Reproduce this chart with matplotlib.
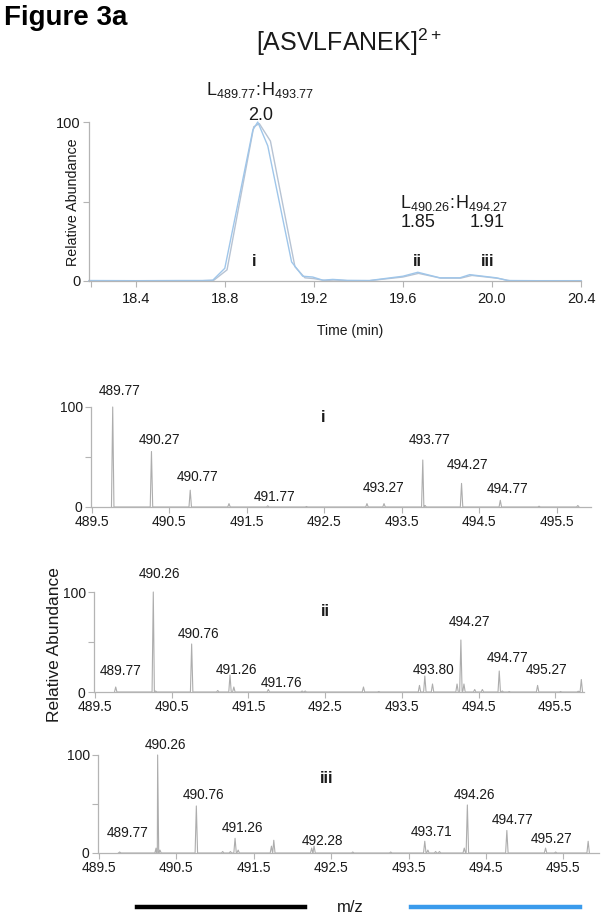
import numpy as np
import matplotlib
matplotlib.use("Agg")
import matplotlib.pyplot as plt

plt.rcParams['font.family'] = ['Liberation Sans', 'DejaVu Sans']
plt.rcParams['mathtext.fontset'] = 'custom'
plt.rcParams['mathtext.rm'] = 'Liberation Sans'
plt.rcParams['mathtext.it'] = 'Liberation Sans'
plt.rcParams['mathtext.bf'] = 'Liberation Sans:bold'

# ---------------- data ----------------
# chromatogram (time in min, relative abundance)
time_L = [18.19, 18.40, 18.60, 18.70, 18.746, 18.80, 18.926, 18.948, 18.993, 19.10, 19.15, 19.195,
          19.24, 19.285, 19.35, 19.45, 19.60, 19.667, 19.766, 19.856, 19.90, 19.96, 20.02, 20.07, 20.20, 20.40]
abund_L = [0.3, 0.2, 0.3, 0.3, 0.5, 8, 95, 100, 85, 12, 3, 2.5,
           0.5, 1.0, 0.4, 0.3, 3, 5.5, 2, 2, 4, 3, 2, 0.3, 0.2, 0.2]
time_H = [18.19, 18.40, 18.60, 18.70, 18.75, 18.81, 18.93, 18.955, 19.005, 19.115, 19.16, 19.20,
          19.25, 19.29, 19.35, 19.45, 19.60, 19.67, 19.77, 19.86, 19.91, 19.97, 20.03, 20.08, 20.20, 20.40]
abund_H = [0.1, 0.1, 0.1, 0.2, 0.4, 7, 97, 99, 88, 9, 2, 1.5,
           0.3, 0.6, 0.2, 0.2, 2.5, 4.8, 1.8, 1.8, 3.5, 2.6, 1.6, 0.2, 0.1, 0.1]

time_ticks = [18.2, 18.4, 18.8, 19.2, 19.6, 20.0, 20.4]
time_ticklabels = ['', '18.4', '18.8', '19.2', '19.6', '20.0', '20.4']

# spectra: peak m/z and relative intensity
mz_i = [489.77, 490.27, 490.77, 491.27, 491.77, 492.27, 493.05, 493.27, 493.77, 493.80,
        494.27, 494.77, 495.27, 495.77]
int_i = [100, 55.5, 16.8, 3.4, 1.2, 0.5, 3.4, 3.4, 47, 1.5, 23.6, 6.7, 0.8, 1.5]
lab_i = ['489.77', '490.27', '490.77', '491.77', '493.27', '493.77', '494.27', '494.77']

mz_ii = [489.77, 490.26, 490.29, 490.76, 491.10, 491.26, 491.31, 491.76, 492.20, 492.24,
         493.00, 493.20, 493.73, 493.80, 493.90, 494.22, 494.27, 494.31, 494.45, 494.55,
         494.77, 494.81, 494.90, 495.27, 495.57, 495.80, 495.84]
int_ii = [5, 100, 1, 48, 1.5, 17, 5, 2.5, 1, 1,
          5, 0.5, 6.6, 16, 8, 8, 52, 8, 2.5, 2.5,
          21, 1, 0.5, 6.6, 0.5, 0.8, 12.5]
lab_ii = ['489.77', '490.26', '490.76', '491.26', '491.76', '493.80', '494.27', '494.77', '495.27']

mz_iii = [489.77, 490.24, 490.26, 490.29, 490.76, 491.10, 491.20, 491.26, 491.30, 491.73,
          491.76, 492.25, 492.28, 492.78, 493.27, 493.71, 493.75, 493.85, 493.90, 494.22,
          494.26, 494.77, 495.27, 495.40, 495.82]
int_iii = [1, 5, 100, 3, 48, 1.5, 1.5, 15, 3, 7,
           13, 5, 7, 1, 1, 12, 3, 1.5, 1.5, 5,
           49, 23, 5, 1, 12]
lab_iii = ['489.77', '490.26', '490.76', '491.26', '492.28', '493.71', '494.26', '494.77', '495.27']

mz_ticks = [489.5, 490.5, 491.5, 492.5, 493.5, 494.5, 495.5]

# ---------------- layout (placement of annotations) ----------------
labpos_i = [(489.86, 116), (490.37, 67), (490.86, 30), (491.86, 10), (493.27, 18.5),
            (493.86, 67), (494.35, 42), (494.86, 18)]
labpos_ii = [(489.83, 21), (490.34, 118), (490.85, 58), (491.35, 21.5), (491.93, 9),
             (493.92, 21.5), (494.38, 70), (494.88, 34), (495.39, 21.5)]
labpos_iii = [(489.87, 20), (490.36, 110), (490.85, 59), (491.36, 26), (492.39, 12),
              (493.80, 21), (494.35, 59), (494.85, 34), (495.35, 14)]

W, H = 605, 924
fig = plt.figure(figsize=(W / 100, H / 100), dpi=100)

def rect(l, r, t, b):
    return [l / W, 1 - b / H, (r - l) / W, (b - t) / H]

spine_c = '#b4b4b4'
txt_c = '#1a1a1a'

def style(ax, fs):
    for s in ['top', 'right']:
        ax.spines[s].set_visible(False)
    for s in ['left', 'bottom']:
        ax.spines[s].set_color(spine_c)
        ax.spines[s].set_linewidth(0.9)
    ax.tick_params(axis='both', colors=spine_c, labelcolor=txt_c, labelsize=fs,
                   length=4, width=0.8, pad=2)
    ax.set_yticks([0, 50, 100])
    ax.set_yticklabels(['0', '', '100'])

# ---- top chromatogram ----
ax0 = fig.add_axes(rect(89, 581, 122, 281))
ax0.plot(time_H, abund_H, color='#b7c3d3', lw=1.0, clip_on=False)
ax0.plot(time_L, abund_L, color='#9fc6ea', lw=1.0, clip_on=False)
ax0.set_xlim(18.19, 20.4)
ax0.set_ylim(0, 100)
style(ax0, 10.5)
ax0.set_xticks(time_ticks)
ax0.set_xticklabels(time_ticklabels)
ax0.tick_params(axis='x', pad=4)
ax0.text(18.96, 120, r'$\mathrm{L_{489.77}\!:\!H_{493.77}}$', fontsize=13, ha='center', va='center', color=txt_c)
ax0.text(18.96, 104, '2.0', fontsize=13, ha='center', va='center', color=txt_c)
ax0.text(19.83, 49, r'$\mathrm{L_{490.26}\!:\!H_{494.27}}$', fontsize=13, ha='center', va='center', color=txt_c)
ax0.text(19.67, 36.5, '1.85', fontsize=13, ha='center', va='center', color=txt_c)
ax0.text(19.98, 36.5, '1.91', fontsize=13, ha='center', va='center', color=txt_c)
for x, s in [(18.93, 'i'), (19.667, 'ii'), (19.98, 'iii')]:
    ax0.text(x, 12, s, fontsize=11.5, fontweight='bold', ha='center', va='center', color=txt_c)
fig.text(73 / W, 1 - 202 / H, 'Relative Abundance', fontsize=10.3, rotation=90,
         ha='center', va='center', color=txt_c)
fig.text(350 / W, 1 - 331 / H, 'Time (min)', fontsize=10, ha='center', va='center', color=txt_c)

# ---- spectra ----
def profile(mz, inten, hw=0.016):
    xs, ys = [], []
    for m, h in zip(mz, inten):
        xs += [m - hw, m, m + hw]
        ys += [0, h, 0]
    return np.array(xs), np.array(ys)

panels = [
    (mz_i, int_i, lab_i, labpos_i, 'i', (492.49, 89), rect(91, 591, 407, 507), (489.49, 495.94)),
    (mz_ii, int_ii, lab_ii, labpos_ii, 'ii', (492.50, 80), rect(94, 584, 592, 692), (489.487, 495.875)),
    (mz_iii, int_iii, lab_iii, labpos_iii, 'iii', (492.44, 76), rect(98, 599, 755, 853), (489.49, 495.96)),
]
for mz, inten, labs, lpos, roman, rpos, r, xl in panels:
    ax = fig.add_axes(r)
    x, y = profile(mz, inten)
    order = np.argsort(x, kind='stable')
    ax.plot(x[order], y[order], color='#adadad', lw=0.8, clip_on=False)
    ax.set_xlim(*xl)
    ax.set_ylim(0, 100)
    style(ax, 10)
    ax.set_xticks(mz_ticks)
    ax.set_xticklabels([f'{t:.1f}' for t in mz_ticks])
    for s, (lx, ly) in zip(labs, lpos):
        ax.text(lx, ly, s, fontsize=9.8, ha='center', va='center', color=txt_c, clip_on=False)
    ax.text(rpos[0], rpos[1], roman, fontsize=11.5, fontweight='bold', ha='center', va='center', color=txt_c)

fig.text(55 / W, 1 - 645 / H, 'Relative Abundance', fontsize=12.5, rotation=90,
         ha='center', va='center', color=txt_c)

# ---- titles and footer ----
fig.text(4 / W, 1 - 18 / H, 'Figure 3a', fontsize=20, fontweight='bold', ha='left', va='center', color='black')
fig.text(349 / W, 1 - 42 / H, r'$\mathrm{[ASVLFANEK]^{2+}}$', fontsize=18, ha='center', va='center', color=txt_c)
fig.text(350 / W, 1 - 907 / H, 'm/z', fontsize=12, ha='center', va='center', color=txt_c)
fig.add_artist(plt.Line2D([137 / W, 305 / W], [1 - 907 / H, 1 - 907 / H], color='black', lw=3.2))
fig.add_artist(plt.Line2D([411 / W, 580 / W], [1 - 907 / H, 1 - 907 / H], color='#3a9bec', lw=3.2))

fig.savefig('out.png', dpi=100)
